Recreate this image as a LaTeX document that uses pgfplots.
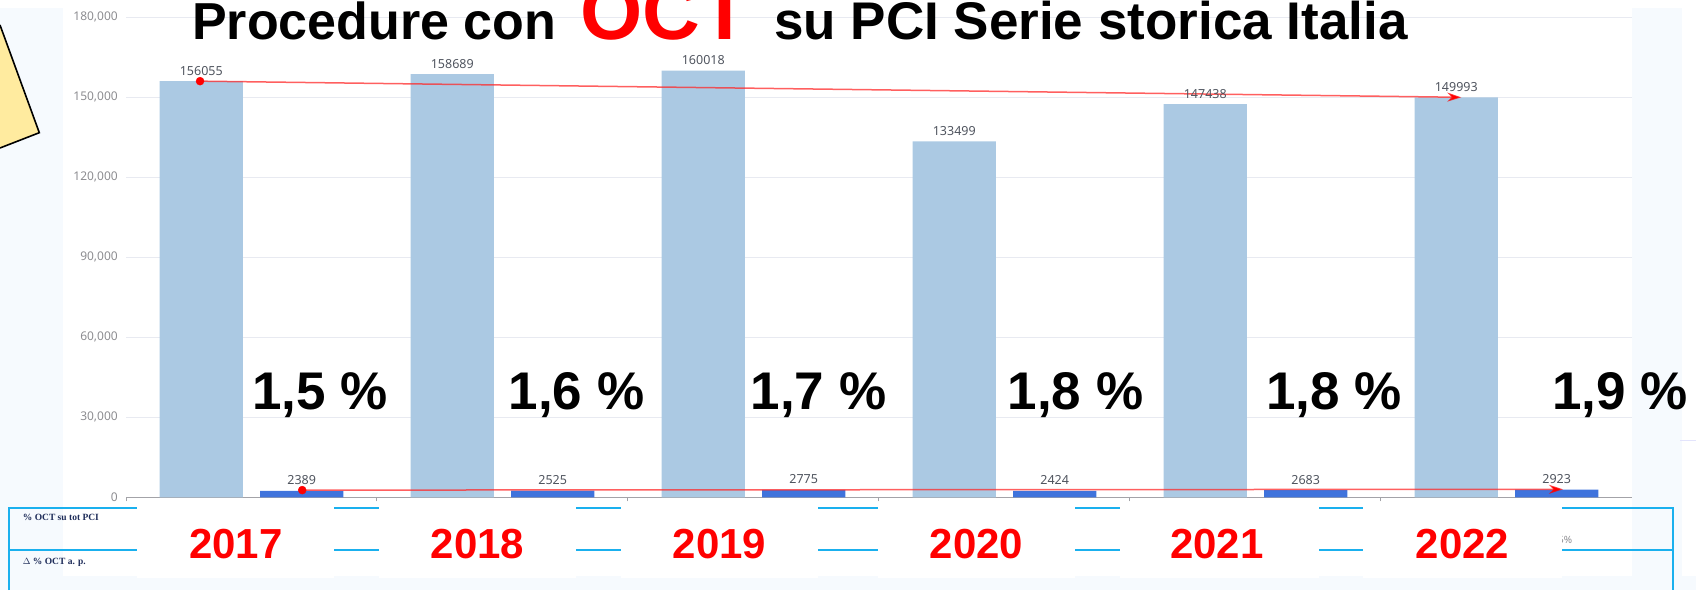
\documentclass[border=0pt]{standalone}
\usepackage{pgfplots}
\pgfplotsset{compat=1.18}
\usepackage{pgfplotstable}
\usetikzlibrary{arrows.meta}
\usepackage{fontspec}
\setmainfont{Liberation Sans}
\newfontfamily\notosans{Noto Sans}
\newfontfamily\serifb{Liberation Serif}

\definecolor{lightbar}{HTML}{ABC9E3}
\definecolor{darkbar}{HTML}{3F73DC}
\definecolor{gridcol}{HTML}{E8EAF1}
\definecolor{axisgray}{HTML}{A3A3A8}
\definecolor{tickgray}{HTML}{8C8C90}
\definecolor{labgray}{HTML}{50555F}
\definecolor{tablecyan}{HTML}{1AB0EE}
\definecolor{noteyellow}{HTML}{FFEB9F}
\definecolor{navy}{HTML}{1F2D5A}
\definecolor{faint}{HTML}{F6FAFE}
\definecolor{arrowred}{HTML}{FF2A2A}

\pgfplotstableread{
year total oct
2017 156055 2389
2018 158689 2525
2019 160018 2775
2020 133499 2424
2021 147438 2683
2022 149993 2923
}\datatab

\begin{document}
\begin{tikzpicture}
% faint background areas
\begin{scope}[x=1pt,y=-1pt,shift={(0pt,590pt)}]
  \fill[faint] (0,8) rectangle (63,590);
  \fill[faint] (1632,8) rectangle (1682,590);
  \fill[faint] (0,576) rectangle (1696,590);
  \draw[color=gridcol!70!blue!30, line width=1pt] (1680,440) -- (1696,440);
  % yellow note
  \fill[noteyellow] (0,25) -- (39.3,132.7) -- (0,148) -- cycle;
  \draw[black, line width=1.6pt] (0,25) -- (39.3,132.7) -- (0,148);
\end{scope}

\begin{axis}[
  at={(126pt,92.7pt)}, anchor=south west,
  scale only axis, width=1506pt, height=480pt,
  xmin=-0.5, xmax=5.5, ymin=0, ymax=180000,
  axis x line*=bottom, axis y line*=left,
  y axis line style={draw=none},
  x axis line style={draw=axisgray, line width=1.5pt},
  xtick={-0.5,0.5,1.5,2.5,3.5,4.5}, xticklabels={},
  tick align=outside, major tick length=4pt,
  x tick style={draw=axisgray, line width=1pt},
  ytick={0,30000,60000,90000,120000,150000,180000},
  y tick style={draw=none},
  ymajorgrids, grid style={draw=gridcol, line width=1.2pt},
  yticklabel style={font=\notosans\fontsize{12}{12}\selectfont, text=tickgray, inner sep=0pt, xshift=-4pt},
  scaled y ticks=false,
  /pgf/number format/.cd, fixed, 1000 sep={,}, assume math mode=true,
  /pgfplots/.cd,
  clip=false,
]
\addplot[ybar, bar width=0.332, bar shift=0pt, fill=lightbar, draw=none,
  nodes near coords, point meta=explicit symbolic,
  every node near coord/.append style={font=\notosans\fontsize{12.5}{12.5}\selectfont, text=labgray, anchor=base, inner sep=0pt, yshift=6pt}]
  table[x expr=\coordindex-0.2, y=total, meta=total]{\datatab};
\addplot[ybar, bar width=0.332, bar shift=0pt, fill=darkbar, draw=none,
  nodes near coords, point meta=explicit symbolic,
  every node near coord/.append style={font=\notosans\fontsize{12.5}{12.5}\selectfont, text=labgray, anchor=base, inner sep=0pt, yshift=6pt}]
  table[x expr=\coordindex+0.2, y=oct, meta=oct]{\datatab};
% trend arrows
\addplot[arrowred, draw opacity=0.75, line width=1.5pt, -{Stealth[length=14pt,width=9pt,color=red]}]
  coordinates {(-0.205,156055) (4.82,150000)};
\addplot[arrowred, draw opacity=0.75, line width=1.5pt, -{Stealth[length=14pt,width=9pt,color=red]}]
  coordinates {(0.202,2700) (5.225,3000)};
\addplot[only marks, mark=*, mark size=4pt, red] coordinates {(-0.205,156055) (0.202,2700)};
% big percentages
\node[font=\bfseries\fontsize{53}{53}\selectfont, anchor=base] at (axis cs:0.272,33000) {1,5 \%};
\node[font=\bfseries\fontsize{53}{53}\selectfont, anchor=base] at (axis cs:1.295,33000) {1,6 \%};
\node[font=\bfseries\fontsize{53}{53}\selectfont, anchor=base] at (axis cs:2.259,33000) {1,7 \%};
\node[font=\bfseries\fontsize{53}{53}\selectfont, anchor=base] at (axis cs:3.283,33000) {1,8 \%};
\node[font=\bfseries\fontsize{53}{53}\selectfont, anchor=base] at (axis cs:4.313,33000) {1,8 \%};
\node[font=\bfseries\fontsize{53}{53}\selectfont, anchor=base] at (axis cs:5.452,33000) {1,9 \%};
\end{axis}

\begin{scope}[x=1pt,y=-1pt,shift={(0pt,590pt)}]
  % title
  \node[font=\bfseries\fontsize{52}{52}\selectfont, anchor=base west, inner sep=0pt] at (192,40) {Procedure con};
  \node[font=\bfseries\fontsize{80}{80}\selectfont, text=red, anchor=base west, inner sep=0pt] at (580,40) {OCT};
  \node[font=\bfseries\fontsize{53}{53}\selectfont, anchor=base west, inner sep=0pt] at (774,40) {su PCI Serie storica Italia};
  % table
  \draw[tablecyan, line width=2pt] (8.7,590) -- (8.7,507.7) -- (1673,507.7) -- (1673,590);
  \draw[tablecyan, line width=2pt] (8.7,550.3) -- (1673,550.3);
  \node[font=\serifb\bfseries\fontsize{9.5}{9.5}\selectfont, text=navy, anchor=base west, inner sep=0pt] at (22.7,520) {\% OCT su tot PCI};
  \node[font=\serifb\bfseries\fontsize{9.5}{9.5}\selectfont, text=navy, anchor=base west, inner sep=0pt] at (22.7,564) {$\Delta$ \% OCT a. p.};
  \node[font=\notosans\fontsize{10}{10}\selectfont, text=tickgray, anchor=base west, inner sep=0pt] at (1558,543) {5\%};
  % white boxes with years
  \foreach \xa/\xb/\xc/\yr in {137/334/236/2017, 379/576/477.4/2018, 621/818/719.6/2019, 878/1075/976.4/2020, 1120/1319/1216.7/2021, 1363/1562/1462.6/2022}{
    \fill[white] (\xa,502) rectangle (\xb,578);
    \node[font=\bfseries\fontsize{42}{42}\selectfont, text=red, anchor=base, inner sep=0pt] at (\xc,558.3) {\yr};
  }
\end{scope}
\pgfresetboundingbox
\path[use as bounding box] (0,0) rectangle (1696pt,590pt);
\end{tikzpicture}
\end{document}
